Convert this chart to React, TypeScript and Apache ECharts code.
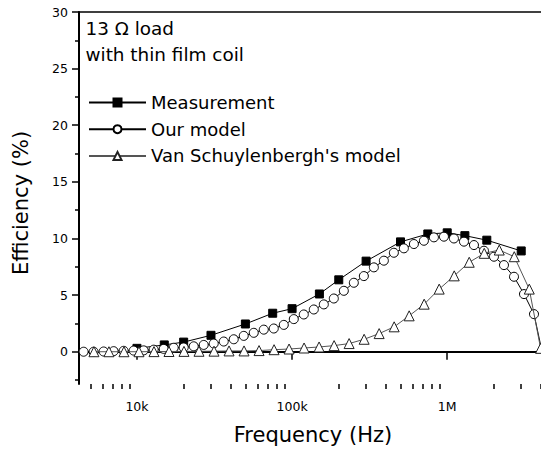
import React, { useEffect, useRef } from 'react';
import * as echarts from 'echarts';

// Frequencies (Hz) and efficiencies (%)
const freqMeas = [10000, 15000, 20000, 30000, 50000, 75000, 100000, 150000, 200000, 300000, 500000, 750000, 1000000, 1300000, 1800000, 3000000];
const effMeas = [0.3, 0.6, 0.85, 1.45, 2.45, 3.4, 3.8, 5.1, 6.35, 8.0, 9.7, 10.4, 10.5, 10.25, 9.85, 8.9];

const freqModel = [4530, 5254, 6098, 7074, 8208, 9522, 11047, 12816, 14872, 17253, 20014, 23220, 26936, 31252, 36257, 42064, 48800, 56613, 65688, 76208, 88412, 102566, 118989, 138069, 160174, 185822, 215578, 250094, 290201, 336672, 390574, 453110, 525667, 609957, 707631, 820928, 952386, 1104900, 1282300, 1487600, 1725700, 2002000, 2322600, 2694900, 3126100, 3626600, 4207300];
const effModel = [0.0, 0.0, 0.02, 0.05, 0.08, 0.1, 0.12, 0.18, 0.25, 0.35, 0.38, 0.48, 0.6, 0.72, 0.9, 1.1, 1.4, 1.67, 1.95, 2.05, 2.37, 2.88, 3.29, 3.73, 4.18, 4.7, 5.38, 6.09, 6.68, 7.45, 8.04, 8.74, 9.13, 9.51, 9.8, 10.1, 10.16, 10.0, 9.72, 9.42, 8.92, 8.39, 7.65, 6.62, 5.09, 3.32, -0.8];

const freqVS = [5280, 6597, 8245, 10302, 12875, 16087, 20101, 25119, 31390, 39223, 49013, 61244, 76545, 95633, 119500, 149325, 186638, 233183, 291405, 364172, 455101, 568589, 710538, 887974, 1109800, 1386800, 1733100, 2165500, 2706300, 3381000, 4000000];
const effVS = [0, 0, 0, 0, 0.01, 0.02, 0.03, 0.04, 0.05, 0.07, 0.07, 0.1, 0.18, 0.24, 0.33, 0.42, 0.54, 0.72, 1.1, 1.6, 2.2, 3.17, 4.2, 5.53, 6.7, 7.9, 8.69, 8.98, 8.39, 5.53, 0.3];

const seriesNames = ['Measurement', 'Our model', "Van Schuylenbergh's model"];
const yLabelValues = [0, 5, 10, 15, 20, 25, 30];
const yMinorValues = [-2.5, 2.5, 7.5, 12.5, 17.5, 22.5, 27.5];
const xLabelValues = [10000, 100000, 1000000];
const xLabelTexts = ['10k', '100k', '1M'];
const xMinorValues = [5000, 6000, 7000, 8000, 9000, 20000, 30000, 40000, 50000, 60000, 70000, 80000, 90000, 200000, 300000, 400000, 500000, 600000, 700000, 800000, 900000, 2000000, 3000000, 4000000];
const annotation = ['13 \u03a9 load', 'with thin film coil'];

const FONT = '"DejaVu Sans", "Liberation Sans", Arial, sans-serif';
const X_MIN = 4230;
const X_MAX = 4024000;
const Y_MIN = -2.85;
const Y_MAX = 30;

const pair = (xs: number[], ys: number[]) => xs.map((x, i) => [x, ys[i]]);
const lg = (v: number) => Math.log10(v);

export default function App() {
  const ref = useRef<HTMLDivElement>(null);
  useEffect(() => {
    const chart = echarts.init(ref.current!, null, { renderer: 'svg' });
    const tickAxis = (values: number[], length: number) => ({
      type: 'value',
      min: lg(X_MIN),
      max: lg(X_MAX),
      position: 'bottom',
      axisLine: { show: false },
      axisTick: { show: true, inside: false, length, customValues: values.map(lg), lineStyle: { color: '#000', width: 1.5 } },
      axisLabel: { show: false },
      splitLine: { show: false },
    });
    const option: any = {
      animation: false,
      backgroundColor: '#fff',
      textStyle: { fontFamily: FONT },
      grid: { left: 79, right: 0, top: 12, bottom: 68, containLabel: false },
      xAxis: [
        {
          type: 'log',
          min: X_MIN,
          max: X_MAX,
          position: 'bottom',
          axisLine: { show: true, lineStyle: { color: '#000', width: 2 } },
          axisTick: { show: false },
          axisLabel: {
            show: true,
            customValues: xLabelValues,
            margin: 16,
            color: '#000',
            fontSize: 12.5,
            fontFamily: FONT,
            formatter: (v: number) => {
              const i = xLabelValues.findIndex((x) => Math.abs(x - v) / x < 1e-6);
              return i >= 0 ? xLabelTexts[i] : '';
            },
          },
          splitLine: { show: false },
          minorTick: { show: false },
        },
        tickAxis(xLabelValues, 8),
        tickAxis(xMinorValues, 5),
        {
          type: 'log',
          min: X_MIN,
          max: X_MAX,
          position: 'top',
          axisLine: { show: true, lineStyle: { color: '#000', width: 1.5 } },
          axisTick: { show: false },
          axisLabel: { show: false },
          splitLine: { show: false },
        },
      ],
      yAxis: [
        {
          type: 'value',
          min: Y_MIN,
          max: Y_MAX,
          position: 'left',
          axisLine: { show: true, lineStyle: { color: '#000', width: 2 } },
          axisTick: { show: true, inside: false, length: 7, customValues: yLabelValues, lineStyle: { color: '#000', width: 1.5 } },
          axisLabel: {
            show: true,
            customValues: yLabelValues,
            margin: 11,
            color: '#000',
            fontSize: 12.5,
            fontFamily: FONT,
          },
          splitLine: { show: false },
        },
        {
          type: 'value',
          min: Y_MIN,
          max: Y_MAX,
          position: 'left',
          axisLine: { show: false },
          axisTick: { show: true, inside: false, length: 4, customValues: yMinorValues, lineStyle: { color: '#000', width: 1.5 } },
          axisLabel: { show: false },
          splitLine: { show: false },
        },
      ],
      legend: {
        orient: 'vertical',
        left: 88,
        top: 92.5,
        padding: 0,
        itemWidth: 57,
        itemHeight: 10,
        itemGap: 6.7,
        data: seriesNames,
        textStyle: { fontSize: 18, lineHeight: 20, color: '#000', fontFamily: FONT },
      },
      graphic: [
        {
          type: 'text',
          left: 85.5,
          top: 19,
          style: { text: annotation[0], font: `18.4px ${FONT}`, fill: '#000' },
        },
        {
          type: 'text',
          left: 85.5,
          top: 45,
          style: { text: annotation[1], font: `18.4px ${FONT}`, fill: '#000' },
        },
        {
          type: 'text',
          x: 21,
          y: 203,
          rotation: Math.PI / 2,
          style: { text: 'Efficiency (%)', font: `21px ${FONT}`, fill: '#000', align: 'center', verticalAlign: 'middle' },
        },
        {
          type: 'text',
          x: 313,
          y: 435,
          style: { text: 'Frequency (Hz)', font: `21px ${FONT}`, fill: '#000', align: 'center', verticalAlign: 'middle' },
        },
      ],
      series: [
        {
          name: seriesNames[0],
          type: 'line',
          xAxisIndex: 0,
          yAxisIndex: 0,
          data: pair(freqMeas, effMeas),
          symbol: 'rect',
          symbolSize: 8,
          showAllSymbol: true,
          lineStyle: { color: '#000', width: 1 },
          itemStyle: { color: '#000', borderColor: '#000', borderWidth: 1 },
          z: 2,
        },
        {
          name: seriesNames[1],
          type: 'line',
          xAxisIndex: 0,
          yAxisIndex: 0,
          data: pair(freqModel, effModel),
          symbol: 'circle',
          symbolSize: 9,
          showAllSymbol: true,
          lineStyle: { color: '#000', width: 1 },
          itemStyle: { color: '#fff', borderColor: '#000', borderWidth: 1 },
          z: 3,
        },
        {
          name: seriesNames[2],
          type: 'line',
          xAxisIndex: 0,
          yAxisIndex: 0,
          data: pair(freqVS, effVS),
          symbol: 'triangle',
          symbolSize: 10,
          showAllSymbol: true,
          lineStyle: { color: '#555', width: 1 },
          itemStyle: { color: '#fff', borderColor: '#222', borderWidth: 1 },
          z: 4,
        },
      ],
    };
    chart.setOption(option);
    return () => chart.dispose();
  }, []);
  return <div ref={ref} style={{ position: 'absolute', left: 0, top: 0, width: 541, height: 452 }} />;
}
